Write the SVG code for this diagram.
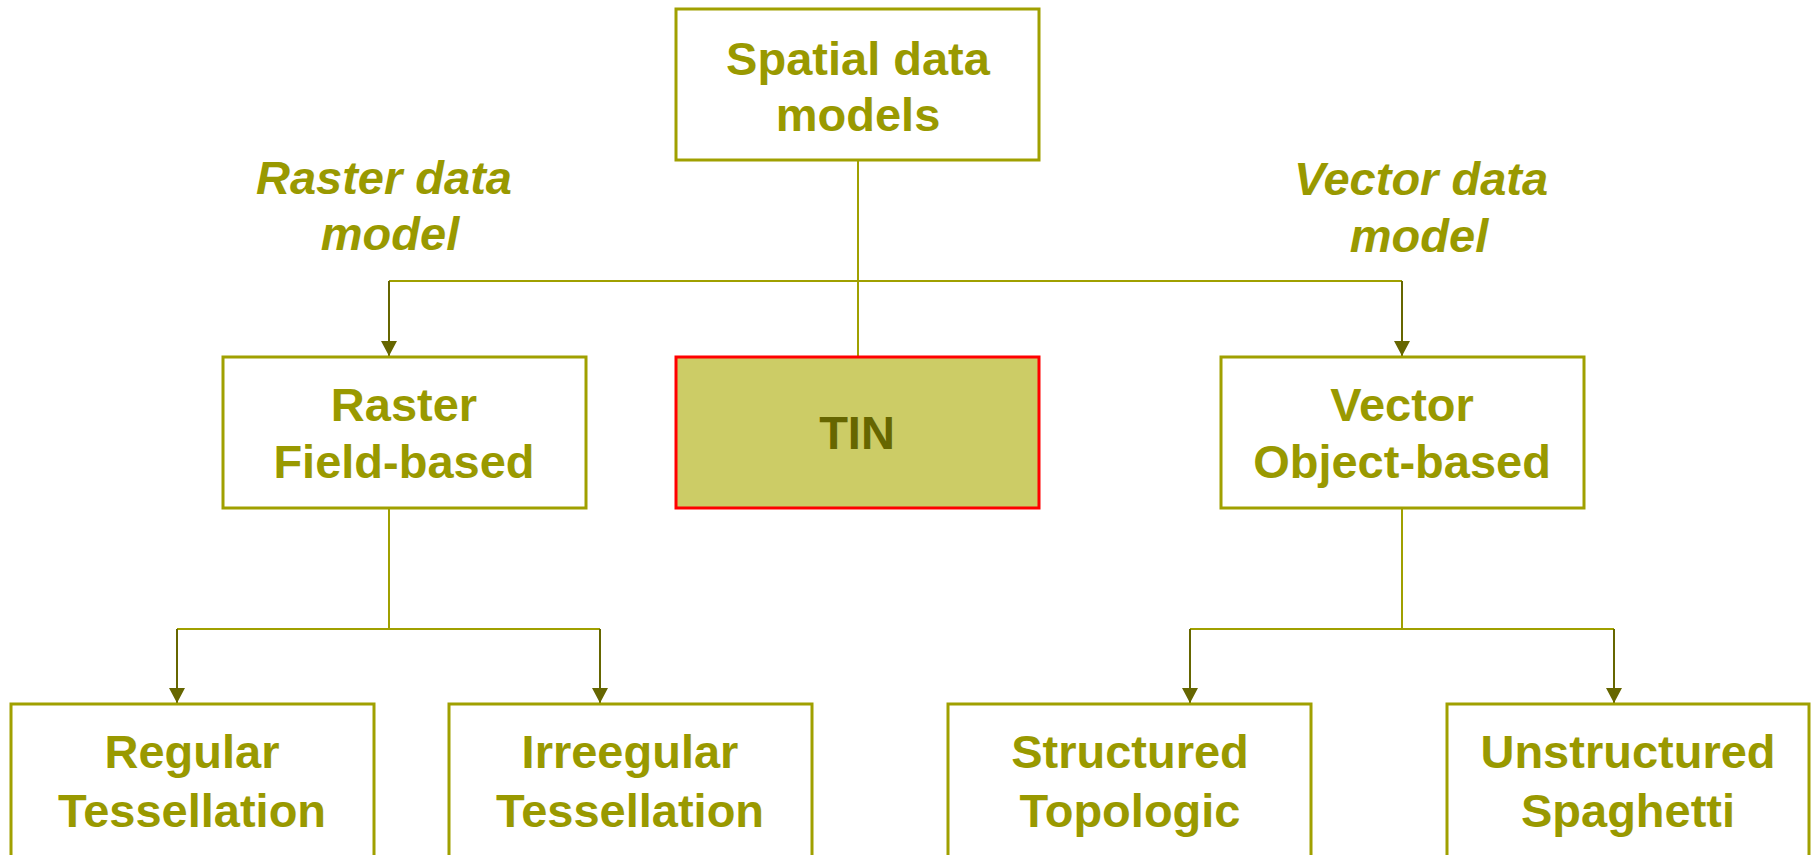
<svg xmlns="http://www.w3.org/2000/svg" width="1812" height="855" viewBox="0 0 1812 855">
<style>
.box{fill:#ffffff;stroke:#a0a000;stroke-width:3}
.tin{fill:#cccc66;stroke:#ff0000;stroke-width:3}
.t{font-family:"Liberation Sans",Arial,sans-serif;font-weight:bold;font-size:47px;fill:#999900;text-anchor:middle}
.ti{font-style:italic}
.dk{fill:#666600}
.ln{fill:none;stroke:#a0a000;stroke-width:2}
.arr{fill:none;stroke:#666600;stroke-width:2}
</style>
<defs>
<marker id="ah" markerUnits="userSpaceOnUse" markerWidth="18" markerHeight="18" viewBox="0 0 18 18" refX="16" refY="9" orient="auto">
<path d="M1,1 L16,9 L1,17 Z" fill="#666600"/>
</marker>
</defs>
<rect width="1812" height="855" fill="#ffffff"/>
<g id="connectors">
<line class="ln" x1="858" y1="160" x2="858" y2="357"/>
<path class="ln" d="M389,281 H1402"/>
<path class="arr" d="M389,281 V356" marker-end="url(#ah)"/>
<path class="arr" d="M1402,281 V356" marker-end="url(#ah)"/>
<line class="ln" x1="389" y1="508" x2="389" y2="629"/>
<path class="ln" d="M177,629 H600"/>
<path class="arr" d="M177,629 V703" marker-end="url(#ah)"/>
<path class="arr" d="M600,629 V703" marker-end="url(#ah)"/>
<line class="ln" x1="1402" y1="508" x2="1402" y2="629"/>
<path class="ln" d="M1190,629 H1614"/>
<path class="arr" d="M1190,629 V703" marker-end="url(#ah)"/>
<path class="arr" d="M1614,629 V703" marker-end="url(#ah)"/>
</g>
<g id="label-raster">
<text class="t ti" x="384" y="194">Raster data</text>
<text class="t ti" x="390" y="250">model</text>
</g>
<g id="label-vector">
<text class="t ti" x="1421" y="195">Vector data</text>
<text class="t ti" x="1419" y="252">model</text>
</g>
<g id="node-spatial">
<rect class="box" x="676" y="9" width="363" height="151"/>
<text class="t" x="858" y="75">Spatial data</text>
<text class="t" x="858" y="131">models</text>
</g>
<g id="node-raster">
<rect class="box" x="223" y="357" width="363" height="151"/>
<text class="t" x="404" y="421">Raster</text>
<text class="t" x="404" y="478">Field-based</text>
</g>
<g id="node-tin">
<rect class="tin" x="676" y="357" width="363" height="151"/>
<text class="t dk" x="857" y="449">TIN</text>
</g>
<g id="node-vector">
<rect class="box" x="1221" y="357" width="363" height="151"/>
<text class="t" x="1402" y="421">Vector</text>
<text class="t" x="1402" y="478">Object-based</text>
</g>
<g id="node-regular">
<rect class="box" x="11" y="704" width="363" height="153"/>
<text class="t" x="192" y="768">Regular</text>
<text class="t" x="192" y="827">Tessellation</text>
</g>
<g id="node-irregular">
<rect class="box" x="449" y="704" width="363" height="153"/>
<text class="t" x="630" y="768">Irreegular</text>
<text class="t" x="630" y="827">Tessellation</text>
</g>
<g id="node-structured">
<rect class="box" x="948" y="704" width="363" height="153"/>
<text class="t" x="1130" y="768">Structured</text>
<text class="t" x="1130" y="827">Topologic</text>
</g>
<g id="node-unstructured">
<rect class="box" x="1447" y="704" width="362" height="153"/>
<text class="t" x="1628" y="768">Unstructured</text>
<text class="t" x="1628" y="827">Spaghetti</text>
</g>
</svg>
